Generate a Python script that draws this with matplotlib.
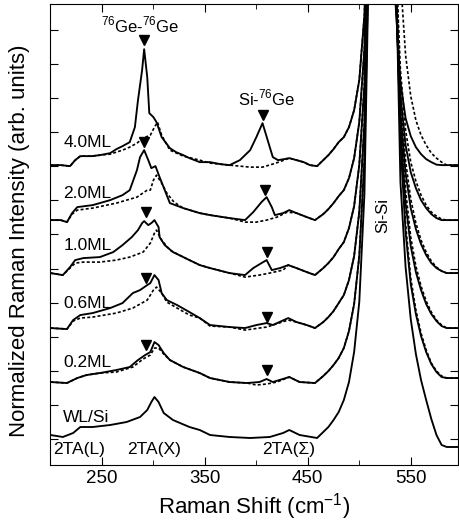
import numpy as np
import matplotlib
matplotlib.use('Agg')
from matplotlib import pyplot as plt
from matplotlib.ticker import MultipleLocator

plt.rcParams['font.family'] = ['Liberation Sans', 'DejaVu Sans']
plt.rcParams['mathtext.fontset'] = 'custom'
plt.rcParams['mathtext.rm'] = 'Liberation Sans'

# Raman shift (cm-1) / intensity above each spectrum's own baseline (arb. units)
labels = ['4.0ML', '2.0ML', '1.0ML', '0.6ML', '0.2ML', 'WL/Si']
offsets = [300, 245, 192, 137, 83, 28]
label_y = [23, 27, 28, 25, 20, 20]

# shared Si-Si flank grids
flank_l_x = [465, 470, 475, 480, 485, 490, 495, 500, 505, 510, 515, 521.5]
flank_r_x = [527, 531, 535, 540, 545, 550, 555, 560, 565, 570, 575, 580, 585, 590, 596]

# 4.0ML
x_40 = [200, 210, 219, 224, 229, 240, 248, 258, 264, 270, 277, 282, 285, 289, 291, 294, 296, 300, 303,
        308, 316, 322, 329, 335, 345, 355, 365, 374, 384, 394, 400, 406, 411, 416, 421, 427, 432, 439,
        446, 452, 459]
y_40 = [0, 0, -1, 5, 9, 9, 10, 12, 16, 19, 23, 38, 65, 95, 116, 88, 52, 48, 43,
        28, 17, 13, 10, 7, 3, 3, 1, 0, 5, 15, 28, 42, 25, 8, 5, 6, 7, 5,
        3, 0, -1]
x_40d = [200, 210, 219, 224, 229, 240, 248, 258, 264, 270, 277, 284, 290, 297, 301, 304, 308, 316, 329,
         345, 355, 374, 394, 406, 419, 432, 439, 446, 452, 459]
y_40d = [0, 0, -1, 5, 9, 9, 10, 11, 13, 15, 18, 22, 27, 30, 38, 43, 30, 15, 9,
         5, 2, 0, -2, -2, 2, 7, 5, 3, 0, -1]
fl_40 = [5, 10, 16, 23, 28, 38, 55, 85, 150, 330, 1050, 3000]
fr_40 = [1047, 344, 165, 83, 47, 29, 18, 11, 6, 3, 0.5, 0, 0, 0, 0]
fr_40d = [1800, 650, 320, 187, 110, 69, 45, 30, 20, 12, 7, 3, 0, 0, 0]

# 2.0ML
x_20 = [200, 210, 216, 221, 226, 241, 258, 270, 277, 284, 287, 291, 295, 298, 302, 306, 311, 316, 329,
        345, 355, 374, 389, 397, 405, 410, 415, 418, 426, 432, 439, 449, 457]
y_20 = [0, 0, -2, 7, 13, 15, 20, 25, 30, 50, 63, 70, 60, 52, 54, 43, 30, 17, 12,
        7, 5, 2, 0, 8, 18, 23, 13, 5, 7, 10, 7, 3, 0]
x_20d = [200, 210, 216, 221, 226, 241, 264, 284, 294, 297, 300, 303, 308, 313, 320, 329, 345, 355, 374,
         389, 400, 410, 420, 430, 439, 449, 457]
y_20d = [0, 0, -2, 6, 10, 12, 17, 23, 30, 30, 40, 45, 37, 27, 18, 12, 7, 5, 2,
         -2, -2, 0, 3, 8, 7, 3, 0]
fl_20 = [6, 11, 17, 24, 30, 42, 62, 98, 171, 365, 1170, 3000]
fr_20 = [1300, 480, 230, 125, 75, 48, 32, 20, 12, 6, 2, 0, 0, 0, 0]
fr_20d = [1500, 560, 270, 150, 90, 58, 39, 25, 15, 8, 4, 1, 0, 0, 0]

# 1.0ML
x_10 = [200, 212, 219, 224, 232, 248, 261, 270, 279, 285, 289, 291, 295, 298, 301, 305, 306, 311, 319,
        329, 345, 355, 374, 389, 397, 405, 410, 415, 423, 431, 439, 449, 457]
y_10 = [0, -2, 6, 13, 15, 16, 21, 28, 36, 43, 50, 52, 48, 50, 53, 46, 36, 28, 21,
        16, 8, 5, 0, -2, 5, 10, 13, 3, 5, 8, 5, 1, -2]
x_10d = [200, 212, 219, 224, 232, 248, 264, 277, 290, 297, 301, 303, 308, 316, 329, 345, 355, 374, 389,
         403, 413, 426, 431, 439, 449, 457]
y_10d = [0, -2, 5, 10, 11, 11, 13, 16, 21, 30, 40, 43, 33, 23, 16, 8, 5, 0, -4,
         -2, 0, 3, 8, 5, 1, -2]
fl_10 = [5, 10, 16, 24, 31, 45, 67, 108, 188, 402, 1288, 3000]
fr_10 = [1600, 600, 300, 160, 100, 65, 44, 29, 18, 10, 5, 2, 0, 0, 0]
fr_10d = [1750, 660, 330, 180, 112, 74, 50, 33, 21, 12, 6, 2, 0, 0, 0]

# 0.6ML
x_06 = [200, 216, 222, 229, 241, 258, 270, 280, 287, 294, 297, 301, 305, 308, 313, 323, 335, 345, 355,
        374, 389, 400, 410, 416, 431, 439, 449, 457]
y_06 = [0, -1, 8, 13, 15, 20, 25, 35, 38, 43, 45, 53, 48, 35, 28, 23, 16, 10, 3,
        1, 0, 3, 5, 3, 10, 6, 3, 0]
x_06d = [200, 216, 222, 229, 241, 264, 280, 294, 300, 303, 308, 313, 323, 335, 345, 355, 374, 389, 410,
         431, 439, 449, 457]
y_06d = [0, -1, 7, 10, 11, 15, 20, 28, 38, 41, 35, 26, 20, 13, 10, 2, 1, -2, 1,
         8, 6, 3, 0]
fl_06 = [6, 11, 17, 25, 33, 48, 72, 116, 205, 438, 1405, 3000]
fr_06 = [1900, 720, 360, 200, 125, 82, 56, 38, 24, 14, 7, 2, 0, 0, 0]
fr_06d = [2050, 780, 390, 220, 138, 91, 62, 42, 27, 16, 8, 3, 0, 0, 0]

# 0.2ML
x_02 = [200, 216, 226, 235, 248, 264, 277, 285, 292, 297, 301, 305, 310, 316, 329, 345, 355, 374, 391,
        403, 410, 416, 432, 442, 457]
y_02 = [0, -1, 4, 7, 9, 12, 15, 22, 27, 30, 40, 37, 29, 22, 15, 9, 4, 0, -1,
        0, 3, 0, 5, 0, -1]
x_02d = [200, 216, 226, 235, 248, 264, 280, 290, 297, 301, 305, 310, 316, 329, 345, 355, 374, 391, 400,
         410, 420, 432, 442, 457]
y_02d = [0, -1, 4, 7, 9, 10, 15, 23, 27, 34, 34, 28, 22, 15, 9, 4, 0, -1, -3,
         -2, 0, 5, 0, -1]
fl_02 = [6, 11, 17, 24, 34, 51, 78, 126, 222, 475, 1522, 3000]
fr_02 = [2200, 850, 430, 240, 150, 98, 68, 46, 30, 18, 10, 5, 4, 4, 4]
fr_02d = [2300, 890, 450, 252, 158, 104, 72, 49, 32, 19, 11, 6, 4, 4, 4]

# WL/Si
x_wl = [200, 212, 222, 229, 241, 258, 274, 287, 294, 298, 301, 305, 310, 319, 335, 345, 355, 374, 394,
        413, 426, 432, 442, 459]
y_wl = [2, 0, 4, 10, 10, 12, 15, 20, 27, 35, 40, 35, 24, 17, 10, 7, 2, 0, -1,
        0, 4, 7, 2, -1]
fl_wl = [5, 10, 17, 25, 37, 55, 85, 135, 243, 519, 1662, 3000]
fr_wl = [2500, 1000, 500, 255, 170, 118, 83, 57, 37, 18, 2, -8, -10, -10, -10]

# peak marker positions (cm-1, height above baseline)
gege_x = [291, 291, 293, 293, 293]
gege_y = [125, 78, 61, 50, 37]
sige_x = [406, 408, 410, 410, 410]
sige_y = [50, 30, 21, 11, 12]

solid = [(x_40, y_40, fl_40, fr_40), (x_20, y_20, fl_20, fr_20), (x_10, y_10, fl_10, fr_10),
         (x_06, y_06, fl_06, fr_06), (x_02, y_02, fl_02, fr_02), (x_wl, y_wl, fl_wl, fr_wl)]
dotted = [(x_40d, y_40d, fl_40, fr_40d), (x_20d, y_20d, fl_20, fr_20d), (x_10d, y_10d, fl_10, fr_10d),
          (x_06d, y_06d, fl_06, fr_06d), (x_02d, y_02d, fl_02, fr_02d)]

fig = plt.figure(figsize=(4.59, 5.26), dpi=100)
ax = fig.add_axes([0.110, 0.116, 0.888, 0.876])

for i, (xs, ys, fl, fr) in enumerate(dotted):
    x = np.array(xs + flank_l_x + flank_r_x)
    y = np.array(ys + fl + fr) + offsets[i]
    ax.plot(x, y, color='k', lw=1.2, ls=(0, (1.8, 1.3)))
for i, (xs, ys, fl, fr) in enumerate(solid):
    x = np.array(xs + flank_l_x + flank_r_x)
    y = np.array(ys + fl + fr) + offsets[i]
    ax.plot(x, y, color='k', lw=1.35)
    ax.text(212.5, offsets[i] + label_y[i], labels[i], fontsize=12.5, va='center', ha='left')

ax.plot(gege_x, np.array(gege_y) + np.array(offsets[:5]), 'kv', ms=6.5)
ax.plot(sige_x, np.array(sige_y) + np.array(offsets[:5]), 'kv', ms=6.5)

ax.text(287, 440, r'$^{76}$Ge-$^{76}$Ge', fontsize=12, ha='center', va='center')
ax.text(410, 367, r'Si-$^{76}$Ge', fontsize=12, ha='center', va='center')
ax.text(523, 250, 'Si-Si', fontsize=12, rotation=90, ha='center', va='center')
ax.text(202.5, 15, '2TA(L)', fontsize=12.5, ha='left', va='center')
ax.text(274, 15, '2TA(X)', fontsize=12.5, ha='left', va='center')
ax.text(406, 15, '2TA(\u03a3)', fontsize=12.5, ha='left', va='center')

ax.set_xlim(200, 596)
ax.set_ylim(0, 461)
ax.xaxis.set_minor_locator(MultipleLocator(50))
ax.set_xticks([250, 350, 450, 550])
ax.set_yticks(np.arange(26, 461, 34.1))
ax.set_yticklabels([])
ax.tick_params(which='both', direction='in', top=True, right=True, labelsize=13.5)
ax.tick_params(which='major', length=6)
ax.tick_params(which='minor', length=3.5)
ax.set_xlabel('Raman Shift (cm$^{-1}$)', fontsize=16, labelpad=3)
ax.set_ylabel('Normalized Raman Intensity (arb. units)', fontsize=16)
ax.yaxis.set_label_coords(-0.05, 0.486)

fig.savefig('out.png', dpi=100)
